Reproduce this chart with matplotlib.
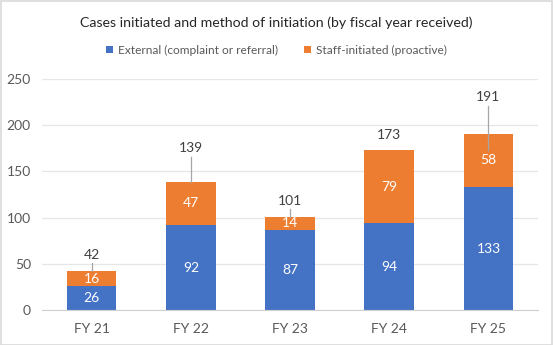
import matplotlib
matplotlib.use("Agg")
import matplotlib.pyplot as plt
from matplotlib.patches import Rectangle

# Cases by fiscal year, split by how they were initiated
years = ["FY 21", "FY 22", "FY 23", "FY 24", "FY 25"]
external = [26, 92, 87, 94, 133]
staff = [16, 47, 14, 79, 58]
totals = [e + s for e, s in zip(external, staff)]

# where the total labels sit and where their leader lines stop
label_y = [60, 175, 118, 189, 230]
leader_end = [42, 139, 101, None, 173]

BLUE = "#4472C4"
ORANGE = "#ED7D31"
GREY = "#595959"

plt.rcParams["font.family"] = ["Lato", "DejaVu Sans"]

fig = plt.figure(figsize=(5.53, 3.45), dpi=100)
fig.patches.append(Rectangle((0.001, 0.001), 0.997, 0.996, transform=fig.transFigure,
                             fill=False, edgecolor="#d9d9d9", linewidth=1.2))
ax = fig.add_axes([0.076, 0.101, 0.897, 0.670])

x = range(len(years))
ax.bar(x, external, width=0.5, color=BLUE, label="External (complaint or referral)", zorder=2)
ax.bar(x, staff, width=0.5, bottom=external, color=ORANGE,
       label="Staff-initiated (proactive)", zorder=2)

for i in x:
    ax.text(i, external[i] / 2, str(external[i]), ha="center", va="center",
            color="white", fontsize=10)
    ax.text(i, external[i] + staff[i] / 2, str(staff[i]), ha="center", va="center",
            color="white", fontsize=10)
    ax.text(i, label_y[i], str(totals[i]), ha="center", va="center",
            color="#404040", fontsize=10)
    if leader_end[i] is not None:
        ax.plot([i, i], [label_y[i] - 9, leader_end[i]], color="#a6a6a6",
                linewidth=0.9, zorder=3)

ax.set_xlim(-0.5, len(years) - 0.5)
ax.set_ylim(0, 250)
ax.set_yticks(range(0, 251, 50))
ax.set_xticks(list(x))
ax.set_xticklabels(years)
ax.yaxis.grid(True, color="#e6e6e6", linewidth=0.9, zorder=0)
ax.set_axisbelow(True)
for side in ["top", "right", "left"]:
    ax.spines[side].set_visible(False)
ax.spines["bottom"].set_color("#d0d0d0")
ax.tick_params(axis="both", length=0, colors=GREY, labelsize=10)
ax.tick_params(axis="y", pad=8)
ax.tick_params(axis="x", pad=9)

fig.text(0.5, 0.935, "Cases initiated and method of initiation (by fiscal year received)",
         ha="center", va="center", fontsize=10.2, color="#262626")
fig.legend(loc="center", bbox_to_anchor=(0.5, 0.855), ncol=2, frameon=False,
           fontsize=8.6, handlelength=0.6, handleheight=0.6, columnspacing=2.2,
           handletextpad=0.4, labelcolor=GREY)

fig.savefig("out.png", dpi=100)
